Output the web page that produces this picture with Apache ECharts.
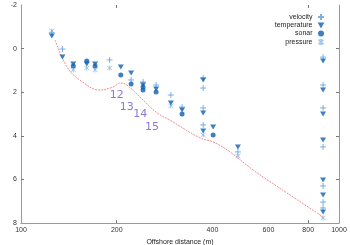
<!DOCTYPE html>
<html><head><meta charset="utf-8">
<script src="https://cdn.jsdelivr.net/npm/echarts@6/dist/echarts.min.js"></script>
<style>html,body{margin:0;padding:0;background:#fff}#c{width:350px;height:245px}</style>
</head><body><div id="c"></div>
<script>
const xTickLabels = [100, 200, 400, 600, 800, 1000];
const xTickMarks = [200, 800];
const yTickMarks = [0, 2, 4, 6];

const profileX = [128, 139.5, 153, 177, 195, 205, 215, 242, 268, 294, 366, 402, 454, 537, 686, 891];
const profileDepth = [-0.39, 0.84, 1.44, 1.90, 1.76, 1.58, 1.67, 2.36, 2.95, 3.28, 4.10, 4.28, 4.74, 5.57, 6.62, 7.72];

const velocityX = [125, 135, 190, 222, 242, 266, 296, 321, 374, 374, 374, 374, 481, 891, 891, 891, 891, 891, 891, 891];
const velocityDepth = [-0.72, 0.02, 0.52, 1.44, 1.53, 1.67, 2.13, 2.68, 1.35, 1.81, 2.72, 3.5, 4.74, 0.39, 1.67, 2.72, 4.51, 6.30, 7.04, 7.31];

const temperatureX = [125, 135, 146, 161, 171, 206, 222, 242, 266, 296, 321, 374, 374, 374, 402, 481, 891, 891, 891, 891, 891, 891, 891];
const temperatureDepth = [-0.58, 0.39, 0.71, 0.71, 0.71, 0.84, 1.12, 1.67, 1.85, 2.50, 2.82, 1.44, 2.95, 3.78, 3.6, 4.51, 0.57, 1.90, 3.0, 4.19, 6.03, 6.72, 7.50];

const sonarX = [146, 161, 171, 206, 222, 242, 242, 266, 321, 402];
const sonarDepth = [0.80, 0.57, 0.80, 1.21, 1.62, 1.76, 1.90, 1.99, 3.0, 3.96];

const pressureX = [125, 146, 161, 171, 190, 296, 374, 481, 891];
const pressureDepth = [-0.81, 0.98, 0.89, 0.98, 0.89, 2.63, 3.96, 4.93, 7.77];

const noteX = [200, 215, 237, 258];
const noteDepth = [2.13, 2.68, 3.0, 3.6];
const noteText = ['12', '13', '14', '15'];

const L = Math.log10;
const pairs = (xs, ys) => xs.map((x, i) => [L(x), ys[i]]);

const FONT = 'Liberation Sans';
const lightBlue = '#5d9ddb';
const paleBlue = '#8dbbe8';
const darkBlue = '#0f5fb0';

const plusPath = 'path://M0,-5L0,5M-5,0L5,0';
const crossPath = 'path://M-4,-4L4,4M-4,4L4,-4M0,-5L0,5';
const triPath = 'path://M-5,-4L5,-4L0,5Z';

const chart = echarts.init(document.getElementById('c'), null, {renderer: 'canvas'});
chart.setOption({
  animation: false,
  textStyle: {fontFamily: FONT},
  grid: {left: 21, right: 11, top: 5, bottom: 22, containLabel: false, outerBoundsMode: 'none'},
  legend: {
    orient: 'vertical', right: 20, top: 8, align: 'right',
    itemWidth: 7, itemHeight: 6, itemGap: 1,
    textStyle: {fontSize: 7, color: '#222', fontFamily: FONT},
    data: ['velocity', 'temperature', 'sonar', 'pressure']
  },
  xAxis: [{
    type: 'value', min: 2, max: 3, position: 'bottom',
    name: 'Offshore distance (m)', nameLocation: 'middle', nameGap: 13,
    nameTextStyle: {fontSize: 7, color: '#222'},
    axisLine: {show: true, onZero: false, lineStyle: {color: '#999'}},
    axisTick: {show: true, inside: true, length: 3, lineStyle: {color: '#777'}, customValues: xTickMarks.map(L)},
    axisLabel: {fontSize: 7, color: '#333', margin: 4, customValues: xTickLabels.map(L),
      formatter: v => String(Math.round(Math.pow(10, v)))},
    splitLine: {show: false}
  }, {
    type: 'value', min: 2, max: 3, position: 'top',
    axisLine: {show: false, onZero: false},
    axisTick: {show: true, inside: true, length: 3, lineStyle: {color: '#777'}, customValues: xTickMarks.map(L)},
    axisLabel: {show: false},
    splitLine: {show: false}
  }],
  yAxis: [{
    type: 'value', min: -2, max: 8, interval: 2, inverse: true, position: 'left',
    name: 'Depth (m)', nameLocation: 'middle', nameGap: 14, nameRotate: 90,
    nameTextStyle: {fontSize: 7, color: '#222'},
    axisLine: {show: true, onZero: false, lineStyle: {color: '#999'}},
    axisTick: {show: true, inside: true, length: 3, lineStyle: {color: '#777'}, customValues: yTickMarks},
    axisLabel: {fontSize: 7, color: '#333', margin: 4},
    splitLine: {show: false}
  }, {
    type: 'value', min: -2, max: 8, interval: 2, inverse: true, position: 'right',
    axisLine: {show: true, onZero: false, lineStyle: {color: '#999'}},
    axisTick: {show: true, inside: true, length: 3, lineStyle: {color: '#777'}, customValues: yTickMarks},
    axisLabel: {show: false},
    splitLine: {show: false}
  }],
  series: [
    {
      name: 'profile', type: 'line', smooth: 0.4, showSymbol: false, symbol: 'none',
      data: pairs(profileX, profileDepth),
      lineStyle: {color: '#f58a8a', width: 1, type: [2, 1]}, z: 1
    },
    {
      name: 'velocity', type: 'scatter', symbol: plusPath, symbolSize: 6,
      data: pairs(velocityX, velocityDepth),
      itemStyle: {color: lightBlue, borderColor: lightBlue, borderWidth: 1}, z: 3
    },
    {
      name: 'temperature', type: 'scatter', symbol: triPath, symbolSize: [6, 5],
      data: pairs(temperatureX, temperatureDepth),
      itemStyle: {color: darkBlue}, z: 4
    },
    {
      name: 'sonar', type: 'scatter', symbol: 'circle', symbolSize: 5,
      data: pairs(sonarX, sonarDepth),
      itemStyle: {color: darkBlue}, z: 4
    },
    {
      name: 'pressure', type: 'scatter', symbol: crossPath, symbolSize: 5,
      data: pairs(pressureX, pressureDepth),
      itemStyle: {color: paleBlue, borderColor: paleBlue, borderWidth: 1}, z: 2
    },
    {
      name: 'notes', type: 'scatter', symbolSize: 0, silent: true,
      data: noteX.map((x, i) => ({value: [L(x), noteDepth[i]], name: noteText[i]})),
      label: {show: true, position: 'inside', formatter: p => p.name,
        fontSize: 11, color: '#6a5acd', fontFamily: 'DejaVu Sans'}
    }
  ]
});
</script></body></html>
